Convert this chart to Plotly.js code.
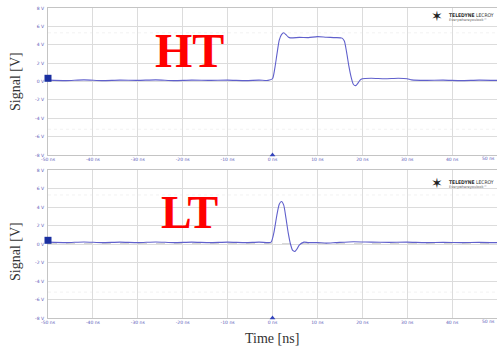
<!DOCTYPE html>
<html><head><meta charset="utf-8">
<script src="https://cdn.plot.ly/plotly-3.0.1.min.js"></script>
<style>html,body{margin:0;padding:0;background:#fff}#c{width:497px;height:351px}</style>
</head><body><div id="c"></div>
<script>
// ---- data ----
const htTime = [-50,-46,-42,-38,-34,-30,-26,-22,-18,-14,-10,-6,-3,-1,0,0.5,1,1.5,2,2.5,3,3.5,4,6,8,10,12,14,15.5,16,16.5,17,17.5,18,18.5,19,19.5,20,22,25,28,30,31,34,38,42,46,50];
const htVolt = [0.15,0.1,0.18,0.1,0.15,0.12,0.18,0.1,0.15,0.12,0.15,0.1,0.15,0.12,0.3,1.4,3.0,4.5,5.1,5.3,5.1,4.85,4.75,4.8,4.78,4.88,4.82,4.78,4.72,4.4,3.2,1.7,0.5,-0.3,-0.45,-0.2,0.15,0.3,0.35,0.3,0.35,0.3,0.18,0.12,0.15,0.1,0.15,0.12];
const ltTime = [-50,-46,-42,-38,-34,-30,-26,-22,-18,-14,-10,-6,-3,-1,-0.3,0.3,1,1.5,2,2.5,3,3.5,4,4.5,5,5.5,6,7,8,10,12,14,18,22,26,30,34,38,42,46,50];
const ltVolt = [0.2,0.15,0.22,0.15,0.2,0.15,0.22,0.15,0.2,0.15,0.2,0.15,0.2,0.15,0.2,1.2,3.2,4.3,4.6,4.2,2.8,1.2,0.0,-0.7,-0.8,-0.5,-0.1,0.2,0.15,0.15,0.1,0.15,0.25,0.2,0.18,0.2,0.15,0.18,0.15,0.18,0.15];
const xTickVals = [-50,-40,-30,-20,-10,0,10,20,30,40,50];
const xTickText = ["-50 ns","-40 ns","-30 ns","-20 ns","-10 ns","0 ns","10 ns","20 ns","30 ns","40 ns","50 ns"];
const yTickVals = [-8,-6,-4,-2,0,2,4,6,8];
const yTickText = ["-8 V","-6 V","-4 V","-2 V","0 V","2 V","4 V","6 V","8 V"];
const panelLabels = ["HT","LT"];
const groundLevel = [0.35, 0.4];

const traceColor = '#6060cc';
const tickFont = {family:'DejaVu Sans, Arial', size:4.5, color:'#5a5ab8'};

const traces = [
  {x:htTime, y:htVolt, xaxis:'x', yaxis:'y', mode:'lines', line:{color:traceColor, width:1.1, shape:'spline', smoothing:0.6}, hoverinfo:'skip'},
  {x:ltTime, y:ltVolt, xaxis:'x2', yaxis:'y2', mode:'lines', line:{color:traceColor, width:1.1, shape:'spline', smoothing:0.6}, hoverinfo:'skip'},
  {x:[xTickVals[0]], y:[groundLevel[0]], xaxis:'x', yaxis:'y', mode:'markers', marker:{symbol:'square', size:7, color:'#1a2fa0', line:{width:0}}, cliponaxis:false},
  {x:[xTickVals[0]], y:[groundLevel[1]], xaxis:'x2', yaxis:'y2', mode:'markers', marker:{symbol:'square', size:7, color:'#1a2fa0', line:{width:0}}, cliponaxis:false},
  {x:[0], y:[yTickVals[0]], xaxis:'x', yaxis:'y', mode:'markers', marker:{symbol:'triangle-up', size:5, color:'#3344bb'}, cliponaxis:false},
  {x:[0], y:[yTickVals[0]], xaxis:'x2', yaxis:'y2', mode:'markers', marker:{symbol:'triangle-up', size:5, color:'#3344bb'}, cliponaxis:false}
];

function xa(anchor){
  return {range:[-50,50], anchor:anchor, tickvals:xTickVals.slice(0,-1), ticktext:xTickText.slice(0,-1), tickfont:tickFont,
    showgrid:true, gridcolor:'#dcdcdc', gridwidth:1, zeroline:false, showline:true, mirror:true,
    linecolor:'#c4c4c4', linewidth:1, ticks:'', fixedrange:true, ticklabelstandoff:0, layer:'below traces'};
}
function ya(anchor, dom){
  return {range:[-8,8], domain:dom, anchor:anchor, tickvals:yTickVals, ticktext:yTickText, tickfont:tickFont,
    showgrid:true, gridcolor:'#dcdcdc', gridwidth:1, zeroline:false, showline:true, mirror:true,
    linecolor:'#c4c4c4', linewidth:1, ticks:'', fixedrange:true, ticklabelstandoff:2, layer:'below traces'};
}

const shapes = [];
[['x','y'],['x2','y2']].forEach(([xr,yr])=>{
  shapes.push({type:'line', xref:xr, yref:yr, x0:0, x1:0, y0:-8, y1:8, line:{color:'#8a8ab8', width:1, dash:'dot'}, layer:'below'});
  shapes.push({type:'line', xref:xr, yref:yr, x0:-50, x1:50, y0:0, y1:0, line:{color:'#b0b0b0', width:1, dash:'dash'}, layer:'below'});
  shapes.push({type:'line', xref:xr, yref:yr, x0:-50, x1:50, y0:5.3, y1:5.3, line:{color:'#f2f2f2', width:1, dash:'dot'}, layer:'below'});
  shapes.push({type:'line', xref:xr, yref:yr, x0:-50, x1:50, y0:-5.2, y1:-5.2, line:{color:'#f2f2f2', width:1, dash:'dot'}, layer:'below'});
});

function px(x){return (x-48)/449;}
function py(y){return (318-y)/310;}
const serif = 'Liberation Serif, Times New Roman, serif';
const annotations = [
  {text:'<b>'+panelLabels[0]+'</b>', x:px(189), y:py(50), font:{family:serif, size:48, color:'#ff0000'}},
  {text:'<b>'+panelLabels[1]+'</b>', x:px(189), y:py(212), font:{family:serif, size:46, color:'#ff0000'}},
  {text:'Signal [V]', x:px(15), y:py(82), textangle:-90, font:{family:serif, size:14, color:'#333'}},
  {text:'Signal [V]', x:px(15), y:py(252), textangle:-90, font:{family:serif, size:14, color:'#333'}},
  {text:'Time [ns]', x:px(272), y:py(338), font:{family:serif, size:14, color:'#333'}},
  {text:xTickText[xTickText.length-1], x:1, y:py(158), xanchor:'right', font:tickFont},
  {text:xTickText[xTickText.length-1], x:1, y:py(321), xanchor:'right', font:tickFont},
];
[15,182].forEach(ty=>{
  annotations.push({text:'<b>TELEDYNE</b> LECROY', x:px(471), y:py(ty), font:{family:'DejaVu Sans Condensed, Arial', size:5, color:'#333'}});
  annotations.push({text:'Everywhereyoulook™', x:px(468), y:py(ty+5), font:{family:'DejaVu Sans, Arial', size:3.5, color:'#666'}});
  annotations.push({text:'✶', x:px(437), y:py(ty+1), font:{family:'DejaVu Sans', size:14, color:'#222'}});
});
annotations.forEach(a=>{a.xref='paper'; a.yref='paper'; a.showarrow=false; if(!a.xanchor)a.xanchor='center'; a.yanchor='middle';});

const layout = {
  width:497, height:351, margin:{l:48, r:0, t:8, b:33},
  paper_bgcolor:'#fff', plot_bgcolor:'#fff', showlegend:false,
  xaxis:xa('y'), xaxis2:xa('y2'),
  yaxis:ya('x',[0.5258,1]), yaxis2:ya('x2',[0,0.4774]),
  shapes:shapes, annotations:annotations
};
Plotly.newPlot('c', traces, layout, {staticPlot:true, displayModeBar:false});
</script></body></html>
